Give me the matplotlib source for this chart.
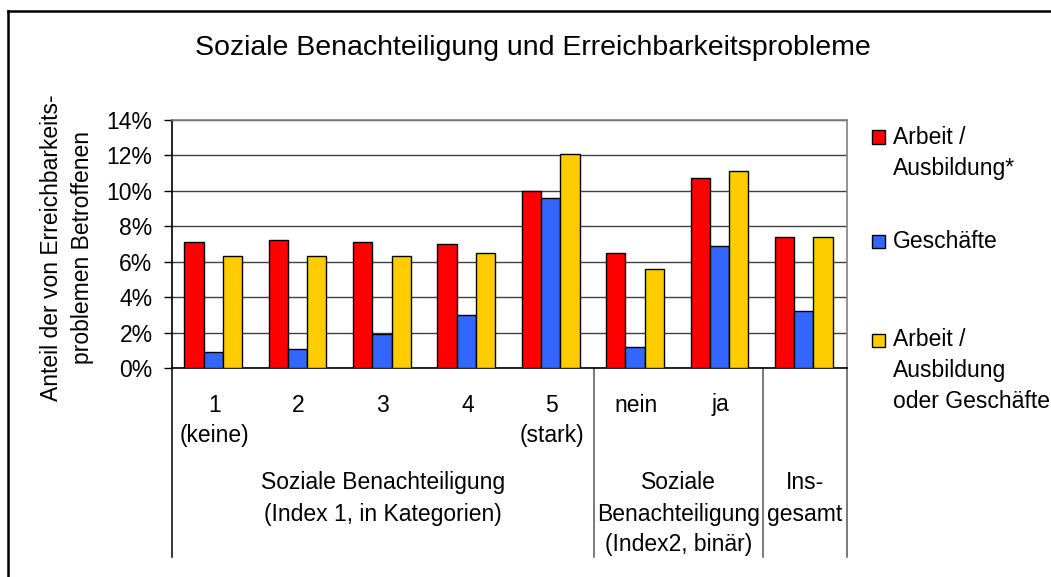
import matplotlib
matplotlib.use("Agg")
import matplotlib.pyplot as plt
import matplotlib.transforms as mtransforms
from matplotlib.lines import Line2D
from matplotlib.patches import Rectangle
import numpy as np

plt.rcParams['font.family'] = ['Liberation Sans', 'DejaVu Sans']

# data (share of persons affected by accessibility problems, in %)
categories = ["1\n(keine)", "2", "3", "4", "5\n(stark)", "nein", "ja", ""]
arbeit = [7.1, 7.2, 7.1, 7.0, 10.0, 6.5, 10.7, 7.4]
geschaefte = [0.9, 1.1, 1.9, 3.0, 9.6, 1.2, 6.9, 3.2]
beides = [6.3, 6.3, 6.3, 6.5, 12.1, 5.6, 11.1, 7.4]
series_names = ["Arbeit /\nAusbildung*", "Geschäfte", "Arbeit /\nAusbildung\noder Geschäfte"]
series_colors = ["#FF0000", "#3366FF", "#FFCC00"]
groups = ["Soziale Benachteiligung\n(Index 1, in Kategorien)",
          "Soziale\nBenachteiligung\n(Index2, binär)",
          "Ins-\ngesamt"]
group_centers = [2.5, 6.0, 7.5]
group_bounds = [0, 5, 7, 8]
yticks = [0, 2, 4, 6, 8, 10, 12, 14]

W, H = 1051, 577
fig = plt.figure(figsize=(W / 100, H / 100), dpi=100)
fig.patch.set_facecolor("white")

# plot area in pixels: x 172..847, y 120..368
L, R, T, B = 172, 847, 120, 368
ax = fig.add_axes([L / W, 1 - B / H, (R - L) / W, (B - T) / H])

x = np.arange(len(categories)) + 0.5
w = 0.228
for k, (vals, col) in enumerate(zip([arbeit, geschaefte, beides], series_colors)):
    ax.bar(x + (k - 1) * w - 0.012, vals, width=w, color=col,
           edgecolor="black", linewidth=1.0, zorder=3)

ax.set_xlim(0, 8)
ax.set_ylim(0, 14)
ax.set_yticks(yticks)
ax.set_yticklabels([f"{v}%" for v in yticks], fontsize=16.5)
ax.tick_params(axis="y", direction="out", length=6, width=1, pad=8, color="black")
ax.set_xticks([])
ax.yaxis.grid(True, color="#404040", linewidth=1, zorder=0)
ax.set_axisbelow(True)
for s in ["top", "right"]:
    ax.spines[s].set_color("#808080")
    ax.spines[s].set_linewidth(1.2)
ax.spines["left"].set_color("black")
ax.spines["bottom"].set_color("black")
ax.spines["left"].set_linewidth(1.2)
ax.spines["bottom"].set_linewidth(1.2)

# separators below the axis
tr = mtransforms.blended_transform_factory(ax.transData, ax.transAxes)
ybot = -(557 - B) / (B - T)
for gb in group_bounds:
    col = "black" if gb == 0 else "#555555"
    ax.plot([gb, gb], [0, ybot], transform=tr, color=col, lw=1.1, clip_on=False)

px = 1.0 / (B - T)
line_h = 31

def put_lines(xc, ytop_px, text):
    for i, line in enumerate(text.split("\n")):
        yy = -(ytop_px + i * line_h - B) * px
        ax.text(xc, yy, line, transform=tr, ha="center", va="center", fontsize=16.5)

for xc, lab in zip(x, categories):
    put_lines(xc, 405, lab)
for xc, lab in zip(group_centers, groups):
    put_lines(xc, 483, lab)

# y label (two lines)
fig.text(52 / W, 1 - 248 / H, "Anteil der von Erreichbarkeits-", rotation=90,
         ha="center", va="center", fontsize=16.5)
fig.text(83 / W, 1 - 248 / H, "problemen Betroffenen", rotation=90,
         ha="center", va="center", fontsize=16.5)

# title
fig.text(195 / W, 1 - 55 / H, "Soziale Benachteiligung und Erreichbarkeitsprobleme",
         ha="left", va="baseline", fontsize=20.5)

# legend
legend_y = [137, 242, 340]
sq = 13
for name, col, ly in zip(series_names, series_colors, legend_y):
    fig.add_artist(Rectangle((872 / W, 1 - (ly + sq / 2) / H), sq / W, sq / H,
                             facecolor=col, edgecolor="black", linewidth=1,
                             transform=fig.transFigure))
    for i, line in enumerate(name.split("\n")):
        fig.text(893 / W, 1 - (ly + i * line_h) / H, line, ha="left", va="center",
                 fontsize=16.5)

# outer frame (left and top edges)
fig.add_artist(Line2D([8 / W, 8 / W], [0, 1 - 11 / H], color="black", lw=1.8,
                      transform=fig.transFigure))
fig.add_artist(Line2D([8 / W, 1], [1 - 11 / H, 1 - 11 / H], color="black", lw=1.8,
                      transform=fig.transFigure))

fig.savefig("out.png", dpi=100)
